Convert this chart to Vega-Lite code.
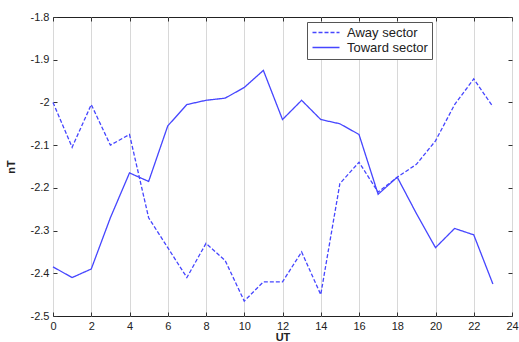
{
  "$schema": "https://vega.github.io/schema/vega-lite/v6.json",
  "autosize": {"type": "none"},
  "width": 459,
  "height": 299,
  "padding": {"left": 53, "top": 17, "right": 7, "bottom": 26},
  "background": "white",
  "config": {
    "view": {"stroke": "#222222", "strokeWidth": 1},
    "font": "Liberation Sans",
    "axis": {"labelFont": "Liberation Sans", "labelFontSize": 11, "labelColor": "#222", "titleFont": "Liberation Sans", "titleFontSize": 11, "titleFontWeight": "bold", "titleColor": "#222", "domain": false, "tickColor": "#333"}
  },
  "data": {"values": [
    {"ut": 0, "v": -2.0, "s": "Away sector"},
    {"ut": 1, "v": -2.105, "s": "Away sector"},
    {"ut": 2, "v": -2.005, "s": "Away sector"},
    {"ut": 3, "v": -2.1, "s": "Away sector"},
    {"ut": 4, "v": -2.075, "s": "Away sector"},
    {"ut": 5, "v": -2.27, "s": "Away sector"},
    {"ut": 6, "v": -2.34, "s": "Away sector"},
    {"ut": 7, "v": -2.41, "s": "Away sector"},
    {"ut": 8, "v": -2.33, "s": "Away sector"},
    {"ut": 9, "v": -2.37, "s": "Away sector"},
    {"ut": 10, "v": -2.465, "s": "Away sector"},
    {"ut": 11, "v": -2.42, "s": "Away sector"},
    {"ut": 12, "v": -2.42, "s": "Away sector"},
    {"ut": 13, "v": -2.35, "s": "Away sector"},
    {"ut": 14, "v": -2.45, "s": "Away sector"},
    {"ut": 15, "v": -2.19, "s": "Away sector"},
    {"ut": 16, "v": -2.14, "s": "Away sector"},
    {"ut": 17, "v": -2.21, "s": "Away sector"},
    {"ut": 18, "v": -2.175, "s": "Away sector"},
    {"ut": 19, "v": -2.145, "s": "Away sector"},
    {"ut": 20, "v": -2.09, "s": "Away sector"},
    {"ut": 21, "v": -2.005, "s": "Away sector"},
    {"ut": 22, "v": -1.945, "s": "Away sector"},
    {"ut": 23, "v": -2.01, "s": "Away sector"},
    {"ut": 0, "v": -2.385, "s": "Toward sector"},
    {"ut": 1, "v": -2.41, "s": "Toward sector"},
    {"ut": 2, "v": -2.39, "s": "Toward sector"},
    {"ut": 3, "v": -2.27, "s": "Toward sector"},
    {"ut": 4, "v": -2.165, "s": "Toward sector"},
    {"ut": 5, "v": -2.185, "s": "Toward sector"},
    {"ut": 6, "v": -2.055, "s": "Toward sector"},
    {"ut": 7, "v": -2.005, "s": "Toward sector"},
    {"ut": 8, "v": -1.995, "s": "Toward sector"},
    {"ut": 9, "v": -1.99, "s": "Toward sector"},
    {"ut": 10, "v": -1.965, "s": "Toward sector"},
    {"ut": 11, "v": -1.925, "s": "Toward sector"},
    {"ut": 12, "v": -2.04, "s": "Toward sector"},
    {"ut": 13, "v": -1.995, "s": "Toward sector"},
    {"ut": 14, "v": -2.04, "s": "Toward sector"},
    {"ut": 15, "v": -2.05, "s": "Toward sector"},
    {"ut": 16, "v": -2.075, "s": "Toward sector"},
    {"ut": 17, "v": -2.215, "s": "Toward sector"},
    {"ut": 18, "v": -2.175, "s": "Toward sector"},
    {"ut": 19, "v": -2.26, "s": "Toward sector"},
    {"ut": 20, "v": -2.34, "s": "Toward sector"},
    {"ut": 21, "v": -2.295, "s": "Toward sector"},
    {"ut": 22, "v": -2.31, "s": "Toward sector"},
    {"ut": 23, "v": -2.425, "s": "Toward sector"}
  ]},
  "layer": [
    {
      "mark": {"type": "line", "color": "#4646ff", "strokeWidth": 1.3},
      "encoding": {
        "x": {"field": "ut", "type": "quantitative", "scale": {"domain": [0, 24], "nice": false}, "axis": {"title": "UT", "values": [0,2,4,6,8,10,12,14,16,18,20,22,24], "grid": true, "gridColor": "#d8d8d8", "tickSize": -4, "labelPadding": 8, "titlePadding": 0, "labelFlush": false}},
        "y": {"field": "v", "type": "quantitative", "scale": {"domain": [-2.5, -1.8], "nice": false, "zero": false}, "axis": {"title": "nT", "values": [-2.5,-2.4,-2.3,-2.2,-2.1,-2.0,-1.9,-1.8], "grid": false, "tickSize": -4, "labelPadding": 8, "titlePadding": 14, "labelExpr": "replace(format(datum.value, '.1~f'), '\u2212', '-')"}},
        "strokeDash": {"field": "s", "type": "nominal", "scale": {"domain": ["Away sector", "Toward sector"], "range": [[4, 2], [1, 0]]}, "legend": {"title": null, "orient": "none", "legendX": 254, "legendY": 5, "strokeColor": "#555", "fillColor": "white", "padding": 4, "labelFontSize": 13, "labelFont": "Liberation Sans", "labelColor": "#222", "symbolType": "M-1,0H4.4", "symbolSize": 100, "symbolStrokeColor": "#4646ff", "symbolStrokeWidth": 1.3, "rowPadding": 1, "labelOffset": 23}}
      }
    },
    {
      "mark": {"type": "line", "opacity": 0},
      "encoding": {
        "x": {"field": "ut", "type": "quantitative", "scale": {"domain": [0, 24], "nice": false}, "axis": {"orient": "top", "title": null, "labels": false, "values": [0,2,4,6,8,10,12,14,16,18,20,22,24], "grid": false, "tickSize": -4}},
        "y": {"field": "v", "type": "quantitative", "scale": {"domain": [-2.5, -1.8], "nice": false, "zero": false}, "axis": {"orient": "right", "title": null, "labels": false, "values": [-2.5,-2.4,-2.3,-2.2,-2.1,-2.0,-1.9,-1.8], "grid": false, "tickSize": -4}},
        "detail": {"field": "s"}
      }
    }
  ],
  "resolve": {"axis": {"x": "independent", "y": "independent"}}
}
